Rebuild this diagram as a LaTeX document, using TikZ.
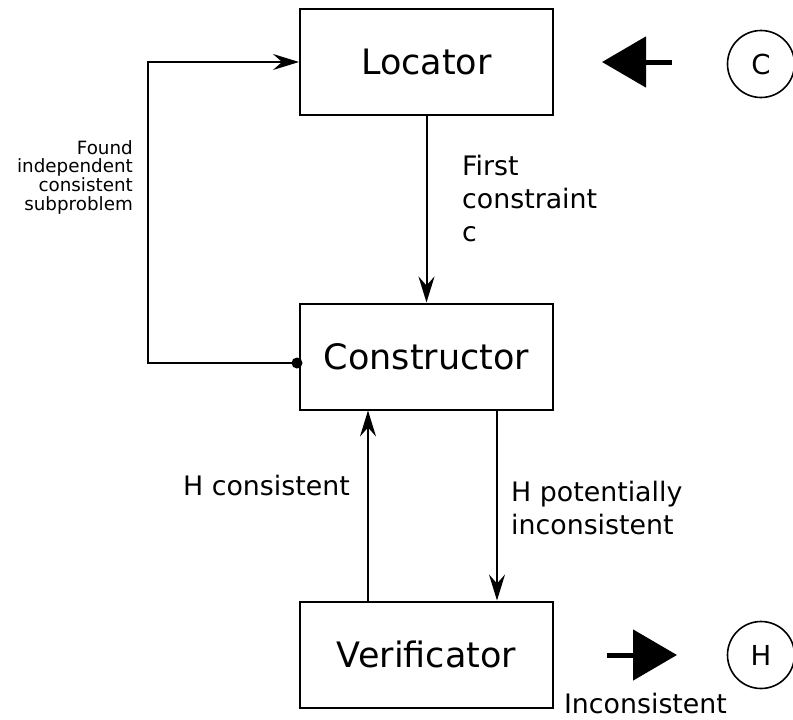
\documentclass[tikz,border=0pt]{standalone}
\usepackage{fontspec}
\setmainfont{DejaVu Sans}
\usetikzlibrary{arrows.meta}
\begin{document}
\begin{tikzpicture}[x=1pt,y=-1pt,
  box/.style={draw,line width=2pt,minimum width=253pt,minimum height=106pt,inner sep=0pt,font=\fontsize{35}{40}\selectfont},
  thin/.style={line width=2pt,-{Stealth[length=26pt,width=16pt,inset=9pt]}},
  lbl/.style={font=\fontsize{26.8}{33}\selectfont,inner sep=0pt},
  circ/.style={draw,circle,line width=1.6pt,minimum size=67pt,inner sep=0pt,font=\fontsize{27.5}{30}\selectfont},
  bigarrow/.style={line width=5pt,-{Triangle[length=44pt,width=50pt]}}]
\useasboundingbox (0,0) rectangle (793,720);
\node[box] (loc) at (426.5,62) {Locator};
\node[box] (con) at (426.5,356.5) {Constructor};
\node[box] (ver) at (426.5,654.5) {Verificator};
\draw[thin] (loc.south) -- (con.north);
\node[lbl,anchor=north west,align=left] (fc) at (462,155) {First\\constraint\\c};
\fill (297,363) circle (5.5pt);
\coordinate (fb) at (297,363);
\draw[thin] (fb) -- (148,363) |- (loc.west);
\node[anchor=north east,align=right,inner sep=0pt,font=\fontsize{18.3}{18.7}\selectfont] (fl) at (133,140) {Found\\independent\\consistent\\subproblem};
\draw[thin] ([xshift=-58.5pt,yshift=-2pt]ver.north) -- ([xshift=-58.5pt]con.south);
\node[lbl,anchor=east] (hc) at (350,486) {H consistent};
\draw[thin] ([xshift=70.5pt]con.south) -- ([xshift=70.5pt]ver.north);
\node[lbl,anchor=north west,align=left] (hp) at (511,481) {H potentially\\inconsistent};
\node[circ] (cc) at (761,64) {C};
\node[circ] (ch) at (761,655) {H};
\coordinate (ca) at (672,62);
\coordinate (cb) at (602,62);
\draw[bigarrow] (ca) -- (cb);
\coordinate (ha) at (607,655);
\coordinate (hb) at (677,655);
\draw[bigarrow] (ha) -- (hb);
\node[lbl,anchor=center] (inc) at (645.5,704) {Inconsistent};
\end{tikzpicture}
\end{document}
